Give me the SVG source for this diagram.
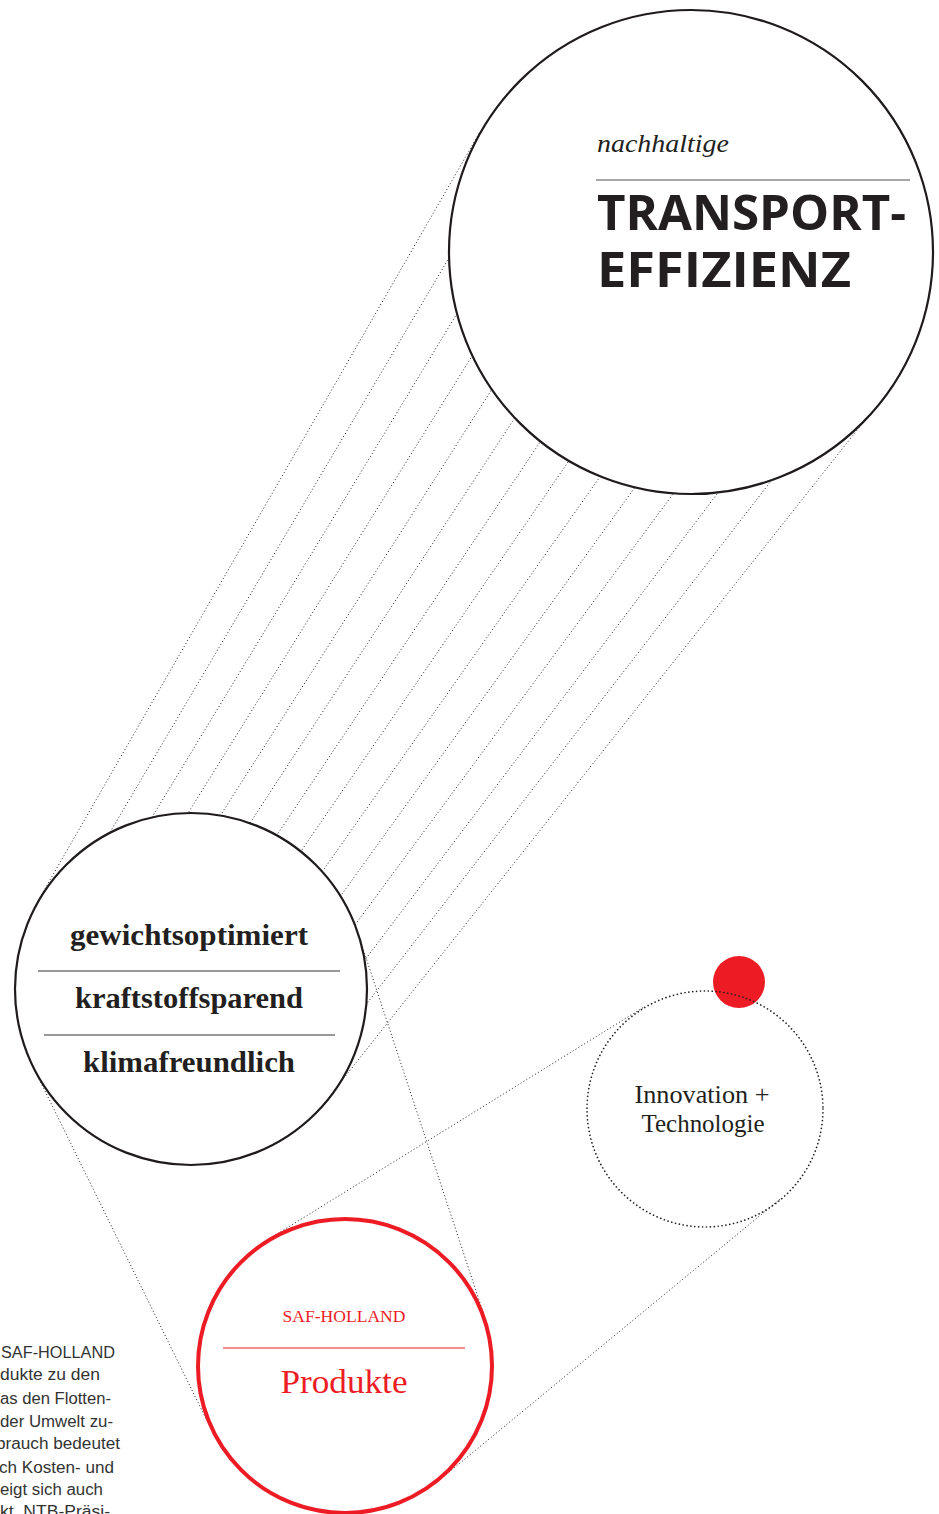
<svg xmlns="http://www.w3.org/2000/svg" width="939" height="1514" viewBox="0 0 939 1514">
<style>
.ring{fill:none;stroke:#1f1b1c;stroke-width:2.2}
.dot{fill:none;stroke:#222;stroke-width:1;stroke-dasharray:1 2.4}
.serif{font-family:"Liberation Serif","Times New Roman",serif}
.sans{font-family:"Liberation Sans",Arial,sans-serif}
.dark{fill:#231f20}
.red{fill:#ed1c24}
.big{font-family:"Open Sans","Liberation Sans",sans-serif;font-weight:700;font-size:48px}
</style>
<defs>
<mask id="hatchMask" maskUnits="userSpaceOnUse" x="0" y="0" width="939" height="1514">
<polygon points="479.5,130.4 882.2,403.6 330.5,1099.5 36.7,900.3" fill="#fff"/>
<circle cx="691" cy="252" r="242" fill="#000"/>
<circle cx="191" cy="989" r="176" fill="#000"/>
</mask>
</defs>
<rect width="939" height="1514" fill="#fff"/>

<g id="connectors">
<g id="hatch" class="dot" mask="url(#hatchMask)">
<line x1="-95.6" y1="1133.3" x2="701.7" y2="-253.9"/>
<line x1="-74.8" y1="1145.5" x2="738.3" y2="-232.4"/>
<line x1="-54.2" y1="1157.7" x2="774.6" y2="-211"/>
<line x1="-33.8" y1="1170.3" x2="810.5" y2="-188.8"/>
<line x1="-13.7" y1="1182.9" x2="846" y2="-166.6"/>
<line x1="6.5" y1="1195.9" x2="881.5" y2="-143.6"/>
<line x1="26.4" y1="1209.1" x2="916.7" y2="-120.3"/>
<line x1="46.2" y1="1222.5" x2="951.5" y2="-96.7"/>
<line x1="65.9" y1="1236.2" x2="986.2" y2="-72.6"/>
<line x1="85.5" y1="1250.1" x2="1020.7" y2="-48.2"/>
<line x1="104.8" y1="1264.1" x2="1054.7" y2="-23.4"/>
<line x1="124.1" y1="1278.6" x2="1088.7" y2="2.1"/>
<line x1="143" y1="1292.9" x2="1122" y2="27.3"/>
<line x1="161.9" y1="1307.8" x2="1155.3" y2="53.6"/>
</g>
<line class="dot" x1="33" y1="1066.6" x2="212.2" y2="1431.3"/>
<line class="dot" x1="358.1" y1="933.8" x2="485.5" y2="1319.6"/>
<line class="dot" x1="642.9" y1="1007.7" x2="267.1" y2="1240.2"/>
<line class="dot" x1="780.1" y1="1199" x2="439.2" y2="1480.2"/>
</g>

<g id="node-transport">
<circle class="ring" cx="691" cy="252" r="242"/>
<text class="serif dark" x="597" y="152" font-size="25" font-style="italic" textLength="132" lengthAdjust="spacingAndGlyphs">nachhaltige</text>
<line x1="596" y1="180" x2="910" y2="180" stroke="#8a8a8a" stroke-width="1.5"/>
<text class="big dark" x="597" y="230" textLength="309" lengthAdjust="spacingAndGlyphs">TRANSPORT-</text>
<text class="big dark" x="597" y="287" textLength="254" lengthAdjust="spacingAndGlyphs">EFFIZIENZ</text>
</g>

<g id="node-eigenschaften">
<circle class="ring" cx="191" cy="989" r="176"/>
<text class="serif dark" x="189" y="945" font-size="30" font-weight="bold" text-anchor="middle" textLength="238" lengthAdjust="spacingAndGlyphs">gewichtsoptimiert</text>
<line x1="38" y1="971" x2="340" y2="971" stroke="#333" stroke-width="1.2"/>
<text class="serif dark" x="189" y="1008" font-size="30" font-weight="bold" text-anchor="middle" textLength="228" lengthAdjust="spacingAndGlyphs">kraftstoffsparend</text>
<line x1="44" y1="1035" x2="335" y2="1035" stroke="#333" stroke-width="1.2"/>
<text class="serif dark" x="189" y="1072" font-size="30" font-weight="bold" text-anchor="middle" textLength="212" lengthAdjust="spacingAndGlyphs">klimafreundlich</text>
</g>

<g id="node-innovation">
<circle cx="739" cy="982" r="26" fill="#ed1c24"/>
<circle cx="705" cy="1109" r="118" fill="none" stroke="#222" stroke-width="1.7" stroke-linecap="round" stroke-dasharray="0.01 3.9"/>
<text class="serif dark" x="702" y="1103" font-size="25" text-anchor="middle" textLength="135" lengthAdjust="spacingAndGlyphs">Innovation +</text>
<text class="serif dark" x="703" y="1132" font-size="25" text-anchor="middle" textLength="123" lengthAdjust="spacingAndGlyphs">Technologie</text>
</g>

<g id="node-produkte">
<circle cx="345" cy="1366" r="147" fill="none" stroke="#ed1c24" stroke-width="4"/>
<text class="serif red" x="344" y="1322" font-size="17.5" text-anchor="middle" textLength="123" lengthAdjust="spacingAndGlyphs">SAF-HOLLAND</text>
<line x1="223" y1="1348" x2="465" y2="1348" stroke="#ed1c24" stroke-width="1.2"/>
<text class="serif red" x="344" y="1393" font-size="33" text-anchor="middle" textLength="127" lengthAdjust="spacingAndGlyphs">Produkte</text>
</g>

<g id="paragraph" class="sans" font-size="16" fill="#333">
<text x="1" y="1358" textLength="114" lengthAdjust="spacingAndGlyphs">SAF-HOLLAND</text>
<text x="0" y="1380" textLength="100" lengthAdjust="spacingAndGlyphs">dukte zu den</text>
<text x="0" y="1404" textLength="111" lengthAdjust="spacingAndGlyphs">as den Flotten-</text>
<text x="0" y="1427" textLength="113" lengthAdjust="spacingAndGlyphs">der Umwelt zu-</text>
<text x="-4" y="1449" textLength="124" lengthAdjust="spacingAndGlyphs">brauch bedeutet</text>
<text x="-1" y="1473" textLength="115" lengthAdjust="spacingAndGlyphs">ch Kosten- und</text>
<text x="0" y="1495" textLength="103" lengthAdjust="spacingAndGlyphs">eigt sich auch</text>
<text x="0" y="1517" textLength="110" lengthAdjust="spacingAndGlyphs">kt. NTB-Präsi-</text>
</g>
</svg>
